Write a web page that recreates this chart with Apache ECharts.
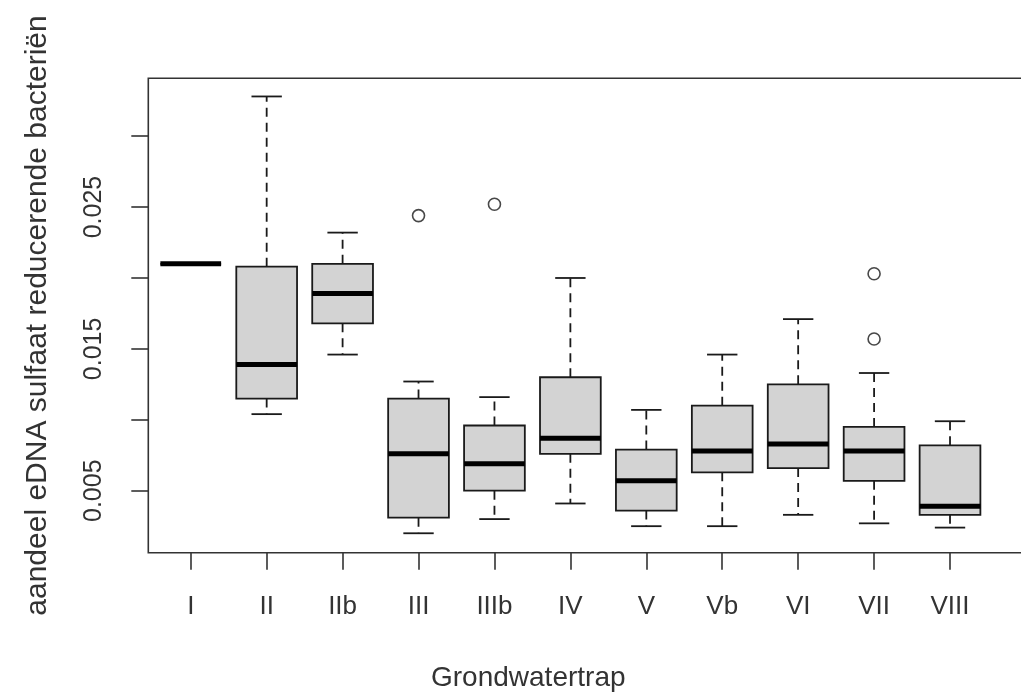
<!DOCTYPE html>
<html>
<head>
<meta charset="utf-8">
<script src="https://cdn.jsdelivr.net/npm/echarts@6/dist/echarts.min.js"></script>
<style>
html,body{margin:0;padding:0;background:#fff;}
#chart{width:1021px;height:696px;}
</style>
</head>
<body>
<div id="chart"></div>
<script>
const categories = ['I','II','IIb','III','IIIb','IV','V','Vb','VI','VII','VIII'];
const whiskerLow  = [0.0210, 0.0104, 0.0146, 0.0020, 0.0030, 0.0041, 0.0025, 0.0025, 0.0033, 0.0027, 0.0024];
const quartile1   = [0.0210, 0.0115, 0.0168, 0.0031, 0.0050, 0.0076, 0.0036, 0.0063, 0.0066, 0.0057, 0.0033];
const medians     = [0.0210, 0.0139, 0.0189, 0.0076, 0.0069, 0.0087, 0.0057, 0.0078, 0.0083, 0.0078, 0.0039];
const quartile3   = [0.0210, 0.0208, 0.0210, 0.0115, 0.0096, 0.0130, 0.0079, 0.0110, 0.0125, 0.0095, 0.0082];
const whiskerHigh = [0.0210, 0.0328, 0.0232, 0.0127, 0.0116, 0.0200, 0.0107, 0.0146, 0.0171, 0.0133, 0.0099];
const outlierGroup = ['III', 'IIIb', 'VII', 'VII'];
const outlierValue = [0.0244, 0.0252, 0.0203, 0.0157];
const yTicks  = [0.005, 0.010, 0.015, 0.020, 0.025, 0.030];
const yLabels = [0.005, 0.015, 0.025];

const positions = categories.map((c, i) => i + 1);
const boxData = categories.map((c, i) => [i + 1, whiskerLow[i], quartile1[i], medians[i], quartile3[i], whiskerHigh[i]]);
const outlierData = outlierGroup.map((g, i) => [categories.indexOf(g) + 1, outlierValue[i]]);

const FONT = '"Liberation Sans", Arial, sans-serif';
const INK = '#1a1a1a';

const chart = echarts.init(document.getElementById('chart'), null, {renderer: 'canvas'});
chart.setOption({
  animation: false,
  backgroundColor: '#fff',
  grid: {
    left: 148.3, top: 78.3, width: 902.7, height: 474.4,
    outerBoundsMode: 'none', containLabel: false,
    show: true, borderColor: '#333', borderWidth: 1.6, backgroundColor: 'transparent'
  },
  xAxis: {
    type: 'value', min: 0.441, max: 12.330,
    splitLine: {show: false},
    axisLine: {show: false},
    axisTick: {show: true, customValues: positions, length: 17, inside: false, lineStyle: {color: '#333', width: 1.6}},
    axisLabel: {
      customValues: positions, margin: 41,
      formatter: v => categories[Math.round(v) - 1] || '',
      fontFamily: FONT, fontSize: 26, color: '#333'
    }
  },
  yAxis: {
    type: 'value', min: 0.00063, max: 0.03408,
    splitLine: {show: false},
    axisLine: {show: false},
    axisTick: {show: true, customValues: yTicks, length: 17, lineStyle: {color: '#333', width: 1.6}},
    axisLabel: {
      customValues: yLabels, rotate: 90, margin: 42,
      formatter: v => v.toFixed(3),
      fontFamily: FONT, fontSize: 25, color: '#333'
    },
    name: 'aandeel eDNA sulfaat reducerende bacteriën',
    nameLocation: 'middle', nameRotate: 90, nameGap: 96,
    nameTextStyle: {fontFamily: FONT, fontSize: 30, color: '#333'}
  },
  graphic: [{
    type: 'text', left: 431, top: 664,
    style: {text: 'Grondwatertrap', font: '28px ' + FONT, fill: '#333'}
  }],
  series: [{
    type: 'custom',
    data: boxData,
    encode: {x: 0, y: [1, 2, 3, 4, 5]},
    renderItem: function (params, api) {
      const x = api.value(0);
      const pLow = api.coord([x, api.value(1)]);
      const pQ1 = api.coord([x, api.value(2)]);
      const pMed = api.coord([x, api.value(3)]);
      const pQ3 = api.coord([x, api.value(4)]);
      const pHigh = api.coord([x, api.value(5)]);
      const half = api.size([0.8, 0])[0] / 2;
      const cap = half / 2;
      const cx = pMed[0];
      const dash = {stroke: INK, lineWidth: 1.8, lineDash: [9, 6], fill: null};
      const solid = {stroke: INK, lineWidth: 1.8, fill: null};
      return {
        type: 'group',
        children: [
          {type: 'line', shape: {x1: cx, y1: pQ3[1], x2: cx, y2: pHigh[1]}, style: dash},
          {type: 'line', shape: {x1: cx, y1: pQ1[1], x2: cx, y2: pLow[1]}, style: dash},
          {type: 'line', shape: {x1: cx - cap, y1: pHigh[1], x2: cx + cap, y2: pHigh[1]}, style: solid},
          {type: 'line', shape: {x1: cx - cap, y1: pLow[1], x2: cx + cap, y2: pLow[1]}, style: solid},
          {type: 'rect', shape: {x: cx - half, y: pQ3[1], width: half * 2, height: pQ1[1] - pQ3[1]},
           style: {fill: '#d3d3d3', stroke: INK, lineWidth: 1.8}},
          {type: 'line', shape: {x1: cx - half, y1: pMed[1], x2: cx + half, y2: pMed[1]},
           style: {stroke: '#000', lineWidth: 5, fill: null}}
        ]
      };
    }
  }, {
    type: 'scatter',
    data: outlierData,
    symbol: 'circle',
    symbolSize: 12,
    itemStyle: {color: '#fff', borderColor: INK, borderWidth: 1.6}
  }]
});
</script>
</body>
</html>
